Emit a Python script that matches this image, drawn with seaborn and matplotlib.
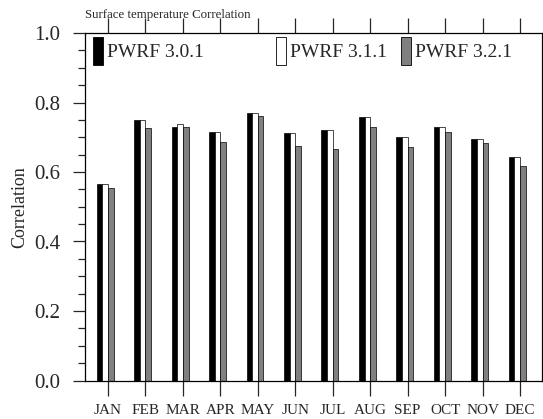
import numpy as np
import pandas as pd
import matplotlib
matplotlib.use("Agg")
import matplotlib.pyplot as plt
from matplotlib.patches import Patch
from matplotlib.legend import Legend
from matplotlib.ticker import MultipleLocator
import seaborn as sns

# data
months = ["JAN", "FEB", "MAR", "APR", "MAY", "JUN",
          "JUL", "AUG", "SEP", "OCT", "NOV", "DEC"]
models = ["PWRF 3.0.1", "PWRF 3.1.1", "PWRF 3.2.1"]
pwrf_301 = [0.565, 0.750, 0.730, 0.715, 0.770, 0.711,
            0.720, 0.757, 0.700, 0.730, 0.694, 0.642]
pwrf_311 = [0.565, 0.750, 0.737, 0.715, 0.770, 0.711,
            0.720, 0.757, 0.700, 0.730, 0.694, 0.642]
pwrf_321 = [0.553, 0.726, 0.730, 0.685, 0.761, 0.675,
            0.666, 0.730, 0.673, 0.714, 0.683, 0.616]
colors = ["#000000", "#ffffff", "#808080"]

df = pd.DataFrame({
    "month": months * 3,
    "corr": pwrf_301 + pwrf_311 + pwrf_321,
    "model": np.repeat(models, len(months)),
})

sns.set_style("ticks")
plt.rcParams["font.family"] = ["Liberation Serif", "DejaVu Serif"]

fig = plt.figure(figsize=(5.43, 4.19), dpi=100)
ax = fig.add_axes([85 / 543, 1 - 380.5 / 419, 457 / 543, 347.5 / 419])

sns.barplot(data=df, x="month", y="corr", hue="model", palette=colors,
            width=0.45, saturation=1, edgecolor="black", linewidth=0.5,
            errorbar=None, legend=False, ax=ax)

# ticks sit at the left edge of the grey bar
bw = 0.15
tick_pos = np.arange(len(months)) + bw / 2
ax.set_xticks(tick_pos)
ax.set_xticklabels(months, fontsize=11)
ax.set_xlim(tick_pos[0] - 0.614, tick_pos[-1] + 0.587)
ax.set_ylim(0, 1.0)
ax.yaxis.set_major_locator(MultipleLocator(0.2))
ax.yaxis.set_minor_locator(MultipleLocator(0.05))
ax.set_yticklabels([f"{v:.1f}" for v in ax.get_yticks()], fontsize=15)

ax.tick_params(axis="x", which="major", direction="out", length=11, width=0.9,
               top=True, bottom=True, labeltop=False, pad=6)
ax.tick_params(axis="y", which="major", direction="out", length=9, width=0.9,
               left=True, right=False, pad=9)
ax.tick_params(axis="y", which="minor", direction="out", length=5, width=0.9,
               left=True, right=False)
for s in ax.spines.values():
    s.set_linewidth(0.9)
    s.set_color("black")
    s.set_visible(True)

ax.set_xlabel("")
ax.set_ylabel("Correlation", fontsize=13)
ax.yaxis.set_label_coords(-0.125, 0.5)

ax.text(0.0, 1.043, "Surface temperature Correlation", transform=ax.transAxes,
        fontsize=9.3, ha="left", va="baseline")

# one legend per entry, spread along the top like the reference
anchors = [0.0175, 0.418, 0.691]
for name, c, x in zip(models, colors, anchors):
    leg = Legend(ax, [Patch(facecolor=c, edgecolor="black", linewidth=0.6)], [name],
                 loc="upper left", bbox_to_anchor=(x, 0.989),
                 frameon=False, borderpad=0, borderaxespad=0,
                 handlelength=0.51, handleheight=1.88, handletextpad=0.2,
                 fontsize=14)
    ax.add_artist(leg)

fig.savefig("out.png", dpi=100)
